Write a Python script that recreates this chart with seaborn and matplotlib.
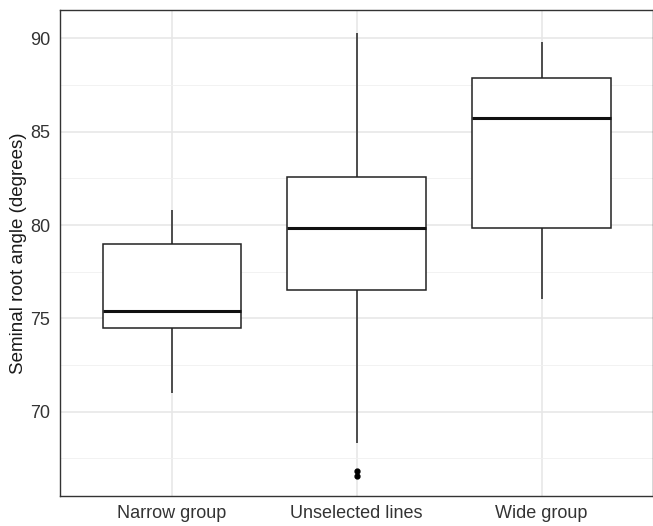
import numpy as np
import pandas as pd
import seaborn as sns
from matplotlib import pyplot as plt
from matplotlib.ticker import FixedLocator

# values (estimated), one list per group
narrow_group = [71.0, 74.48, 75.41, 78.98, 80.8]
unselected_lines = [66.55, 66.83, 68.35, 76.52, 77.5, 78.6, 79.86, 80.7, 81.6, 82.58, 84.5, 87.0, 90.3]
wide_group = [76.02, 79.82, 85.75, 87.89, 89.82]

group_names = ['Narrow group', 'Unselected lines', 'Wide group']
y_ticks = [70, 75, 80, 85, 90]

df = pd.DataFrame({
    'group': [group_names[0]] * len(narrow_group)
             + [group_names[1]] * len(unselected_lines)
             + [group_names[2]] * len(wide_group),
    'angle': narrow_group + unselected_lines + wide_group,
})

sns.set_style('white')
plt.rcParams['font.family'] = ['Liberation Sans', 'DejaVu Sans']

fig = plt.figure(figsize=(6.53, 5.26), dpi=100)
ax = fig.add_axes([60 / 653, 30.3 / 526, 592.5 / 653, 485.7 / 526])

# grid first (ggplot theme_bw style)
ax.set_axisbelow(True)
ax.yaxis.set_major_locator(FixedLocator(y_ticks))
ax.yaxis.set_minor_locator(FixedLocator([67.5, 72.5, 77.5, 82.5, 87.5]))
ax.grid(True, which='major', color='#E6E6E6', linewidth=1.1)
ax.grid(True, which='minor', axis='y', color='#F0F0F0', linewidth=0.6)

sns.boxplot(data=df, x='group', y='angle', order=group_names, ax=ax,
            width=0.75, color='white', linecolor='#222222', linewidth=1.1,
            whis=1.5, showcaps=False,
            medianprops={'linewidth': 2.2, 'color': '#111111'},
            flierprops={'marker': 'o', 'markerfacecolor': 'black',
                        'markeredgecolor': 'black', 'markersize': 3.5})

ax.set_xlim(-0.605, 2.6)
ax.set_ylim(65.5, 91.52)
ax.set_xlabel('')
ax.set_ylabel('Seminal root angle (degrees)', fontsize=13.5, color='#1a1a1a', labelpad=2)

ax.tick_params(axis='both', which='major', length=4, width=0.9, color='#333333',
               labelsize=13, labelcolor='#333333', pad=3)
ax.tick_params(axis='y', which='minor', length=0)
ax.xaxis.grid(True, color='#E6E6E6', linewidth=1.1)

for spine in ax.spines.values():
    spine.set_visible(True)
    spine.set_color('#333333')
    spine.set_linewidth(1.0)

fig.savefig('out.png', dpi=100)
